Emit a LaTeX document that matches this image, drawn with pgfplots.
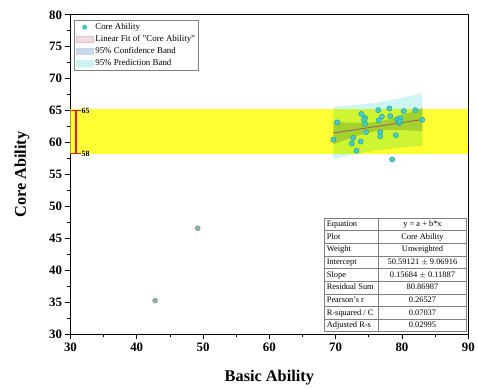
\documentclass[border=0pt]{standalone}
\usepackage{fontspec}
\setmainfont{Liberation Serif}
\usepackage{pgfplots}
\pgfplotsset{compat=1.18}
\usepackage{array}
\usepackage{colortbl}
\definecolor{ptfill}{RGB}{72,206,196}
\definecolor{ptedge}{RGB}{40,160,160}
\definecolor{outedge}{RGB}{235,120,120}
\definecolor{fitline}{RGB}{150,100,95}
\definecolor{piband}{RGB}{205,245,245}
\definecolor{ciband}{RGB}{205,218,236}
\definecolor{bandyellow}{RGB}{255,255,51}
\definecolor{errred}{RGB}{225,30,30}
\definecolor{fitleg}{RGB}{238,220,222}
\definecolor{fitlegedge}{RGB}{235,190,195}
\definecolor{cileg}{RGB}{200,216,236}
\definecolor{pileg}{RGB}{200,245,242}
\newcommand\ca[1]{\makebox[50bp][l]{#1}}
\newcommand\cb[1]{\makebox[84bp][c]{#1}}
\begin{document}
\begin{tikzpicture}
\begin{axis}[
  width=401bp, height=322bp, scale only axis,
  xmin=30, xmax=90, ymin=30, ymax=80,
  xtick={30,40,...,90}, ytick={30,35,...,80},
  minor x tick num=1, minor y tick num=1,
  tick pos=left, tick align=outside,
  major tick length=5bp, minor tick length=3bp,
  every tick/.style={black, line width=0.8pt},
  axis line style={line width=1.2pt},
  /pgf/number format/assume math mode=true,
  ticklabel style={font=\fontsize{13}{15}\selectfont\bfseries},
  xlabel={Basic Ability}, ylabel={Core Ability},
  label style={font=\fontsize{16.5}{19}\selectfont\bfseries},
  xlabel style={at={(axis description cs:0.5,-0.134)}, anchor=center},
  ylabel style={at={(axis description cs:-0.122,0.5)}, anchor=center},
  legend style={at={(rel axis cs:0.01,0.985)}, anchor=north west,
    font=\fontsize{9}{11}\selectfont, draw=gray, row sep=0.3bp, inner sep=1.5bp},
  legend cell align=left,
]
% yellow band
\addplot[forget plot, fill=bandyellow, draw=none] coordinates {(30,58.3) (90,58.3) (90,65.3) (30,65.3)};
% 95% prediction band
\addplot[forget plot, fill=piband, draw=none, blend mode=multiply] coordinates {
(69.64,65.619) (71,65.713) (72,65.798) (73,65.897) (74,66.010) (75,66.139) (76,66.284)
(77,66.445) (78,66.622) (79,66.814) (80,67.022) (81,67.243) (82,67.479) (83.06,67.743)
(83.06,59.493) (82,59.425) (81,59.347) (80,59.256) (79,59.150) (78,59.028) (77,58.891)
(76,58.738) (75,58.569) (74,58.384) (73,58.185) (72,57.970) (71,57.741) (69.64,57.409)};
% 95% confidence band
\addplot[forget plot, fill=ciband, draw=none, blend mode=multiply] coordinates {
(69.64,63.282) (71,63.197) (72,63.145) (73,63.109) (74,63.098) (75,63.129) (76,63.227)
(77,63.404) (78,63.657) (79,63.962) (80,64.301) (81,64.659) (82,65.030) (83.06,65.431)
(83.06,61.805) (82,61.874) (81,61.931) (80,61.977) (79,62.002) (78,61.993) (77,61.932)
(76,61.795) (75,61.579) (74,61.296) (73,60.973) (72,60.623) (71,60.257) (69.64,59.746)};
% linear fit
\addplot[forget plot, fitline, line width=0.9pt] coordinates {(69.64,61.514) (83.06,63.618)};
% masked points
\addplot[forget plot, only marks, mark=*, mark size=2.5bp, mark options={fill=ptfill, draw=outedge, line width=0.6pt}] coordinates {(42.77,35.27) (49.2,46.6)};
% data points
\addplot[forget plot, only marks, mark=*, mark size=2.6bp, mark options={fill=ptfill, draw=ptedge, line width=0.5pt}] coordinates {
(70.24,63.18) (69.64,60.48) (73.87,64.51) (74.43,63.89) (74.28,63.58) (74.43,62.96)
(74.58,61.63) (72.63,60.74) (72.42,59.86) (73.77,60.17) (73.13,58.73) (76.42,65.09)
(78.11,65.35) (76.97,64.05) (76.47,63.49) (78.22,64.16) (76.72,61.67) (76.72,61.01)
(79.07,61.16) (80.27,64.93) (82.01,65.09) (79.27,63.64) (79.76,63.84) (79.57,63.07)
(79.67,63.33) (83.06,63.58) (78.52,57.38)};
% range bar 58 -- 65
\addplot[forget plot, errred, line width=1.3pt, mark=none] coordinates {(30.85,58.3) (30.85,65)};
\addplot[forget plot, errred, line width=1.3pt, mark=none] coordinates {(30.1,65) (31.6,65)};
\addplot[forget plot, errred, line width=1.3pt, mark=none] coordinates {(30.1,58.3) (31.6,58.3)};
\node[anchor=west, font=\fontsize{8}{9}\selectfont\bfseries, inner sep=1bp] at (axis cs:31.5,65) {65};
\node[anchor=west, font=\fontsize{8}{9}\selectfont\bfseries, inner sep=1bp] at (axis cs:31.5,58.3) {58};
% legend
\addlegendimage{only marks, mark=*, mark size=2.2bp, mark options={fill=ptfill, draw=ptedge}}
\addlegendentry{Core Ability}
\addlegendimage{area legend, fill=fitleg, draw=fitlegedge}
\addlegendentry{Linear Fit of "Core Ability"}
\addlegendimage{area legend, fill=cileg, draw=cileg}
\addlegendentry{95\% Confidence Band}
\addlegendimage{area legend, fill=pileg, draw=pileg}
\addlegendentry{95\% Prediction Band}
% table
\node[anchor=north west, inner sep=0pt, fill=white] at (rel axis cs:0.638,0.366) {%
  \fontsize{8.5}{12.4}\selectfont\setlength\tabcolsep{2bp}\arrayrulecolor{gray}%
  \begin{tabular}{|l|l|}
  \hline
  \ca{Equation} & \cb{y = a + b*x}\\\hline
  \ca{Plot} & \cb{Core Ability}\\\hline
  \ca{Weight} & \cb{Unweighted}\\\hline
  \ca{Intercept} & \cb{50.59121 $\pm$ 9.06916}\\\hline
  \ca{Slope} & \cb{0.15684 $\pm$ 0.11887}\\\hline
  \ca{Residual Sum} & \cb{80.86987}\\\hline
  \ca{Pearson's r} & \cb{0.26527}\\\hline
  \ca{R-squared / C} & \cb{0.07037}\\\hline
  \ca{Adjusted R-s} & \cb{0.02995}\\\hline
  \end{tabular}};
\end{axis}
\path (current axis.south west) ++(-71bp,-55bp);
\path (current axis.north east) ++(6bp,15bp);
\end{tikzpicture}
\end{document}
